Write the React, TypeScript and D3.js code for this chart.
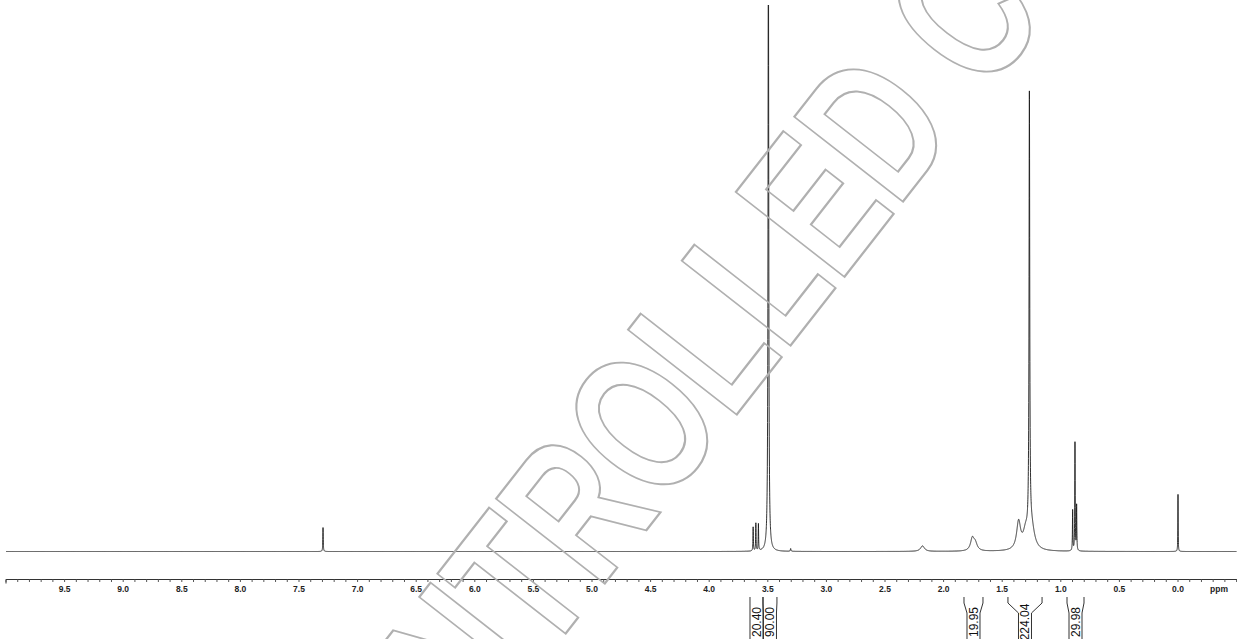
import React, { useMemo } from "react";
import * as d3 from "d3";

// ---- Data ----
// Peak list: chemical shift (ppm), height (rel. units), half-width (ppm)
const peakPpm = [7.295, 3.625, 3.602, 3.58, 3.495, 3.305, 2.18, 1.755, 1.73, 1.36, 1.30, 1.268, 1.25, 0.899, 0.879, 0.865, 0.0];
const peakHeight = [5.2, 5.2, 6.0, 5.8, 140, 0.6, 1.2, 2.6, 1.6, 6.0, 3.4, 94.8, 5, 8.8, 23.5, 9.8, 12.4];
const peakWidth = [0.002, 0.002, 0.002, 0.002, 0.0035, 0.003, 0.02, 0.018, 0.02, 0.02, 0.025, 0.0035, 0.03, 0.002, 0.002, 0.002, 0.0015];

const tickMajor = [9.5, 9.0, 8.5, 8.0, 7.5, 7.0, 6.5, 6.0, 5.5, 5.0, 4.5, 4.0, 3.5, 3.0, 2.5, 2.0, 1.5, 1.0, 0.5, 0.0];
const tickLabels = ["9.5", "9.0", "8.5", "8.0", "7.5", "7.0", "6.5", "6.0", "5.5", "5.0", "4.5", "4.0", "3.5", "3.0", "2.5", "2.0", "1.5", "1.0", "0.5", "0.0"];

const integralFrom = [3.652, 3.541, 1.826, 1.451, 0.947];
const integralTo = [3.541, 3.422, 1.664, 1.160, 0.802];
const integralValues = ["20.40", "90.00", "19.95", "224.04", "29.98"];

const watermarkText = "UNCONTROLLED COPY";

const W = 1237;
const H = 639;

export default function App() {
  const x = d3.scaleLinear().domain([10.0, -0.5]).range([6, 1236.6]);
  const y = d3.scaleLinear().domain([0, 118.7]).range([551.5, 5]);

  const spectrum = useMemo(() => {
    const pts: number[] = [];
    for (let p = 10.0; p >= -0.5; p -= 0.0005) pts.push(p);
    peakPpm.forEach((p) => pts.push(p));
    pts.sort((a, b) => b - a);
    return pts.map((p) => {
      let v = 0;
      for (let i = 0; i < peakPpm.length; i++) {
        const d = (p - peakPpm[i]) / peakWidth[i];
        v += peakHeight[i] / (1 + d * d);
      }
      return [p, v] as [number, number];
    });
  }, []);

  const line = d3
    .line<[number, number]>()
    .x((d) => x(d[0]))
    .y((d) => y(d[1]));

  const minorTicks = d3.range(0, 106).map((i) => 10 - i * 0.1).filter((t) => t >= -0.5);

  const axisY = 579.5;

  const integralPath = (i: number) => {
    const x1 = x(integralFrom[i]);
    const x2 = x(integralTo[i]);
    const c = (x1 + x2) / 2;
    const half = Math.min((x2 - x1) / 2, 6.5);
    const ix1 = c - half;
    const ix2 = c + half;
    const l = `M${x1},597 L${x1},603 L${ix1},613 L${ix1},${H}`;
    const r = `M${x2},597 L${x2},603 L${ix2},613 L${ix2},${H}`;
    return { l, r, c };
  };

  const fs = 143;

  return (
    <svg
      width={W}
      height={H}
      style={{ position: "absolute", left: 0, top: 0, background: "#fff" }}
      fontFamily="'Liberation Sans', Arial, sans-serif"
    >
      <defs>
        <clipPath id="plot">
          <rect x={0} y={5} width={W} height={560} />
        </clipPath>
      </defs>
      <rect x={0} y={0} width={W} height={H} fill="#fff" />

      {/* spectrum */}
      <path
        d={line(spectrum) || ""}
        fill="none"
        stroke="#1a1a1a"
        strokeWidth={0.9}
        clipPath="url(#plot)"
      />

      {/* axis */}
      <line x1={x(10)} x2={W} y1={axisY} y2={axisY} stroke="#333" strokeWidth={1} />
      <line x1={x(10)} x2={x(10)} y1={axisY} y2={axisY + 4} stroke="#333" strokeWidth={1} />
      {minorTicks.map((t, i) => (
        <line
          key={i}
          x1={x(t)}
          x2={x(t)}
          y1={axisY}
          y2={axisY + 2.5}
          stroke="#555"
          strokeWidth={1}
        />
      ))}
      {tickMajor.map((t, i) => (
        <text
          key={i}
          x={x(t)}
          y={592}
          textAnchor="middle"
          fontSize={8.5}
          fontWeight="bold"
          fill="#222"
        >
          {tickLabels[i]}
        </text>
      ))}
      <text x={1219} y={592} textAnchor="middle" fontSize={8.5} fontWeight="bold" fill="#222">
        ppm
      </text>

      {/* integrals */}
      {integralValues.map((v, i) => {
        const p = integralPath(i);
        return (
          <g key={i}>
            <path d={p.l} fill="none" stroke="#333" strokeWidth={1} />
            <path d={p.r} fill="none" stroke="#333" strokeWidth={1} />
            <text
              transform={`translate(${p.c + 4.5},622) rotate(-90)`}
              textAnchor="middle"
              fontSize={12}
              fontFamily="'Liberation Sans Narrow', 'Liberation Sans', sans-serif"
              fill="#111"
            >
              {v}
            </text>
          </g>
        );
      })}

      {/* watermark */}
      <text
        transform="translate(545,660) rotate(-52) scale(1,1.4)"
        x={-3.666 * fs}
        y={0}
        fontSize={fs}
        fontWeight="bold"
        fill="none"
        stroke="#b0b0b0"
        strokeWidth={1.6}
      >
        {watermarkText}
      </text>
    </svg>
  );
}
